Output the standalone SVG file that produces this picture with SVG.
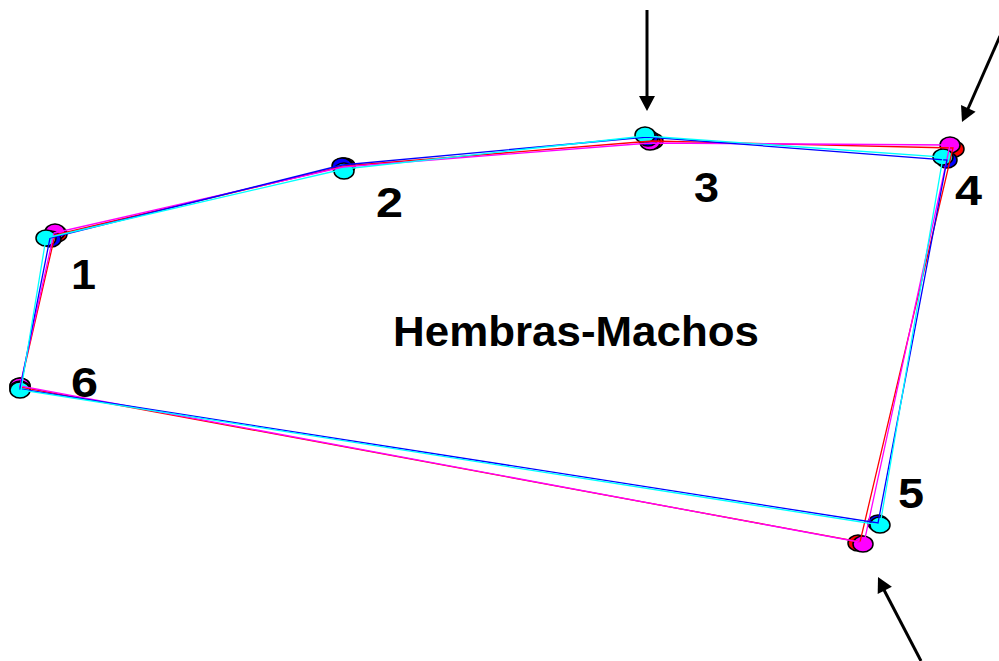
<svg xmlns="http://www.w3.org/2000/svg" width="999" height="661" viewBox="0 0 999 661">
<defs>
<style>
.lbl{font-family:"Liberation Sans",Arial,sans-serif;font-weight:bold;fill:#000}
.num{font-size:42px}
.title{font-size:42px}
.poly{fill:none;stroke-width:1.3}
.pt{stroke:#000;stroke-width:1.5}
.arr{stroke:#000;stroke-width:3;fill:none}
.head{fill:#000}
</style>
</defs>
<rect width="999" height="661" fill="#fff"/>
<g id="points">
<g fill="#ff0000" class="pt">
<ellipse cx="57" cy="234" rx="10" ry="8"/><ellipse cx="345" cy="166" rx="10" ry="8"/><ellipse cx="653" cy="141" rx="10" ry="8"/><ellipse cx="954" cy="149" rx="10" ry="8"/><ellipse cx="858" cy="543" rx="10" ry="8"/><ellipse cx="20" cy="386" rx="10" ry="8"/>
</g>
<g fill="#ff00ff" class="pt">
<ellipse cx="55" cy="232" rx="10" ry="8"/><ellipse cx="343" cy="166" rx="10" ry="8"/><ellipse cx="650" cy="142" rx="10" ry="8"/><ellipse cx="950" cy="145" rx="10" ry="8"/><ellipse cx="863" cy="544" rx="10" ry="8"/><ellipse cx="20" cy="386" rx="10" ry="8"/>
</g>
<g fill="#0000ff" class="pt">
<ellipse cx="51" cy="239" rx="10" ry="8"/><ellipse cx="342" cy="166" rx="10" ry="8"/><ellipse cx="648" cy="138" rx="10" ry="8"/><ellipse cx="947" cy="160" rx="10" ry="8"/><ellipse cx="878" cy="523" rx="10" ry="8"/><ellipse cx="20" cy="389" rx="10" ry="8"/>
</g>
<g fill="#00ffff" class="pt">
<ellipse cx="46" cy="238" rx="10" ry="8"/><ellipse cx="344" cy="171" rx="10" ry="8"/><ellipse cx="645" cy="135" rx="10" ry="8"/><ellipse cx="943" cy="157" rx="10" ry="8"/><ellipse cx="880" cy="525" rx="10" ry="8"/><ellipse cx="20" cy="390" rx="10" ry="8"/>
</g>
</g>
<g id="connectors">
<polygon class="poly" stroke="#ff0000" points="55,235 344,166 652,141 953,148 860,542 20,387"/>
<polygon class="poly" stroke="#ff00ff" points="54,233 343,167 650,143 950,145 864,543 20,386"/>
<polygon class="poly" stroke="#0000ff" points="50,238 342,165 647,137 947,160 878,523 20,389"/>
<polygon class="poly" stroke="#00ffff" points="46,238 344,169 645,136 943,157 880,525 21,390"/>
<line class="arr" x1="647" y1="10" x2="647" y2="98"/>
<polygon class="head" points="639,96 655,96 647,111"/>
<line class="arr" x1="1000" y1="36" x2="967" y2="111"/>
<polygon class="head" points="962,122 975.6,111.8 961,105"/>
<line class="arr" x1="921" y1="661" x2="883" y2="588"/>
<polygon class="head" points="878,577 891.9,586.8 877.7,594"/>
</g>
<g id="labels">
<text class="lbl num" x="71" y="289" textLength="25" lengthAdjust="spacingAndGlyphs">1</text>
<text class="lbl num" x="376" y="217" textLength="27" lengthAdjust="spacingAndGlyphs">2</text>
<text class="lbl num" x="694" y="202" textLength="25" lengthAdjust="spacingAndGlyphs">3</text>
<text class="lbl num" x="955" y="205" textLength="27" lengthAdjust="spacingAndGlyphs">4</text>
<text class="lbl num" x="898" y="508" textLength="26" lengthAdjust="spacingAndGlyphs">5</text>
<text class="lbl num" x="71" y="397" textLength="27" lengthAdjust="spacingAndGlyphs">6</text>
<text id="title" class="lbl title" x="393" y="346" textLength="366" lengthAdjust="spacingAndGlyphs">Hembras-Machos</text>
</g>
</svg>
